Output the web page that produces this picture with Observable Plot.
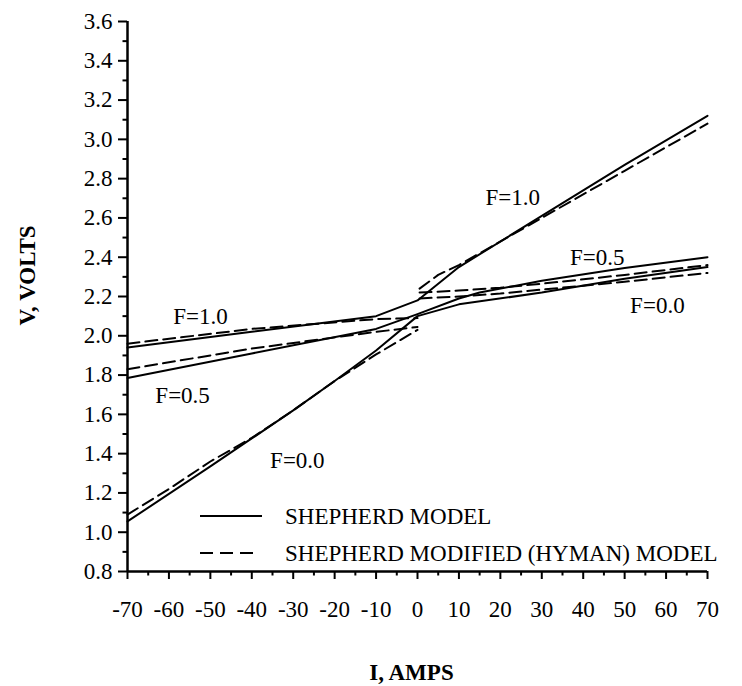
<!DOCTYPE html>
<html>
<head>
<meta charset="utf-8">
<script src="https://cdn.jsdelivr.net/npm/d3@7"></script>
<script src="https://cdn.jsdelivr.net/npm/@observablehq/plot@0.6"></script>
<style>
  body { margin: 0; background: #fff; font-family: 'Liberation Serif', 'Times New Roman', Times, serif; }
  #wrap { position: relative; width: 742px; height: 686px; }
  #wrap svg { display: block; }
  #wrap svg text { font-family: 'Liberation Serif', 'Times New Roman', Times, serif; }
  #legend { position: absolute; left: 0; top: 0; pointer-events: none; }
</style>
</head>
<body>
<div id="wrap"></div>
<script>
// ---- tick values ----
const xMajor = [-70, -60, -50, -40, -30, -20, -10, 0, 10, 20, 30, 40, 50, 60, 70];
const xMinor = [-65, -55, -45, -35, -25, -15, -5, 5, 15, 25, 35, 45, 55, 65];
const yMajor = [0.8, 1.0, 1.2, 1.4, 1.6, 1.8, 2.0, 2.2, 2.4, 2.6, 2.8, 3.0, 3.2, 3.4, 3.6];
const yMinor = [0.9, 1.1, 1.3, 1.5, 1.7, 1.9, 2.1, 2.3, 2.5, 2.7, 2.9, 3.1, 3.3, 3.5];

// ---- Shepherd model (solid) ----
const f10SolidI = [-70, -40, -10, 0, 10, 30, 50, 70];
const f10SolidV = [1.94, 2.02, 2.10, 2.18, 2.35, 2.61, 2.87, 3.12];
const f05SolidI = [-70, -40, -10, 0, 10, 15, 30, 50, 70];
const f05SolidV = [1.785, 1.91, 2.035, 2.11, 2.19, 2.22, 2.28, 2.345, 2.40];
const f00SolidI = [-70, -50, -30, -20, -10, 0, 10, 30, 50, 70];
const f00SolidV = [1.055, 1.335, 1.62, 1.77, 1.925, 2.10, 2.16, 2.22, 2.29, 2.35];

// ---- Shepherd modified (Hyman) model (dashed), discharge / charge branches ----
const f10DashLeftI = [-70, -40, -10, 0];
const f10DashLeftV = [1.96, 2.035, 2.085, 2.09];
const f10DashRightI = [0.5, 5, 10, 30, 50, 70];
const f10DashRightV = [2.24, 2.31, 2.36, 2.60, 2.84, 3.08];
const f05DashLeftI = [-70, -40, -10, 0];
const f05DashLeftV = [1.83, 1.935, 2.02, 2.045];
const f05DashRightI = [0.5, 10, 20, 30, 50, 70];
const f05DashRightV = [2.22, 2.23, 2.245, 2.265, 2.31, 2.36];
const f00DashLeftI = [-70, -60, -50, -40, -30, -20, -10, 0];
const f00DashLeftV = [1.09, 1.22, 1.36, 1.48, 1.62, 1.77, 1.905, 2.03];
const f00DashRightI = [0.5, 10, 20, 30, 50, 70];
const f00DashRightV = [2.19, 2.20, 2.215, 2.235, 2.275, 2.32];

// ---- curve annotations ----
const labelText = ["F=1.0", "F=0.5", "F=0.0", "F=1.0", "F=0.5", "F=0.0"];
const labelI = [-52.4, -56.7, -29, 23, 43.4, 57.9];
const labelV = [2.10, 1.696, 1.365, 2.704, 2.40, 2.154];

// ---- legend ----
const legendLabels = ["SHEPHERD MODEL", "SHEPHERD MODIFIED (HYMAN) MODEL"];
const legendDash = [null, "13,7"];

// ---- axis titles ----
const xTitle = "I, AMPS";
const yTitle = "V, VOLTS";

// build tables
const solidRows = [];
const dashRows = [];
function add(target, series, Is, Vs) {
  Is.forEach((I, i) => target.push({series, I, V: Vs[i]}));
}
add(solidRows, "F=1.0", f10SolidI, f10SolidV);
add(solidRows, "F=0.5", f05SolidI, f05SolidV);
add(solidRows, "F=0.0", f00SolidI, f00SolidV);
add(dashRows, "F=1.0 L", f10DashLeftI, f10DashLeftV);
add(dashRows, "F=1.0 R", f10DashRightI, f10DashRightV);
add(dashRows, "F=0.5 L", f05DashLeftI, f05DashLeftV);
add(dashRows, "F=0.5 R", f05DashRightI, f05DashRightV);
add(dashRows, "F=0.0 L", f00DashLeftI, f00DashLeftV);
add(dashRows, "F=0.0 R", f00DashRightI, f00DashRightV);
const labels = labelText.map((t, i) => ({t, I: labelI[i], V: labelV[i]}));

const font = "'Liberation Serif', 'Times New Roman', Times, serif";

const chart = Plot.plot({
  width: 742,
  height: 686,
  marginTop: 21,
  marginBottom: 115,
  marginLeft: 127,
  marginRight: 35,
  x: {domain: [-70, 70], label: null},
  y: {domain: [0.8, 3.6], label: null},
  style: {fontFamily: font, fontSize: "23px", color: "#000", background: "#fff", overflow: "visible"},
  marks: [
    Plot.axisX(xMajor, {tickSize: 8, tickPadding: 21, strokeWidth: 2, tickFormat: d => String(d), fontSize: 23, label: null}),
    Plot.axisX(xMinor, {tickSize: 4.5, strokeWidth: 2, tickFormat: () => "", label: null}),
    Plot.axisY(yMajor, {tickSize: 9, tickPadding: 6, strokeWidth: 2, tickFormat: d => d.toFixed(1), fontSize: 23, label: null}),
    Plot.axisY(yMinor, {tickSize: 4.5, strokeWidth: 2, tickFormat: () => "", label: null}),
    Plot.ruleX([-70], {strokeWidth: 2.5}),
    Plot.ruleY([0.8], {strokeWidth: 2.5}),
    Plot.line(solidRows, {x: "I", y: "V", z: "series", stroke: "#000", strokeWidth: 2}),
    Plot.line(dashRows, {x: "I", y: "V", z: "series", stroke: "#000", strokeWidth: 2, strokeDasharray: "12,6"}),
    Plot.text(labels, {x: "I", y: "V", text: "t", fontSize: 23, textAnchor: "middle", lineAnchor: "middle", fill: "#000"}),
    Plot.text([yTitle], {frameAnchor: "left", rotate: -90, dx: -100, dy: -21, fontWeight: "bold", fontSize: 23, lineAnchor: "middle", textAnchor: "middle"}),
    Plot.text([xTitle], {frameAnchor: "bottom", dx: -6, dy: 101, fontWeight: "bold", fontSize: 23, lineAnchor: "middle", textAnchor: "middle"})
  ]
});
document.getElementById("wrap").appendChild(chart);

// legend overlay (inside plot area, lower part)
const leg = d3.select("#wrap").append("svg")
  .attr("id", "legend").attr("width", 742).attr("height", 686);
const rowY = [516, 553];
legendLabels.forEach((lab, i) => {
  leg.append("line")
    .attr("x1", 200).attr("x2", i === 0 ? 262 : 253)
    .attr("y1", rowY[i]).attr("y2", rowY[i])
    .attr("stroke", "#000").attr("stroke-width", 2)
    .attr("stroke-dasharray", legendDash[i]);
  leg.append("text")
    .attr("x", 285).attr("y", rowY[i]).attr("dy", "0.35em")
    .attr("font-size", 23).attr("fill", "#000")
    .text(lab);
});
</script>
</body>
</html>
